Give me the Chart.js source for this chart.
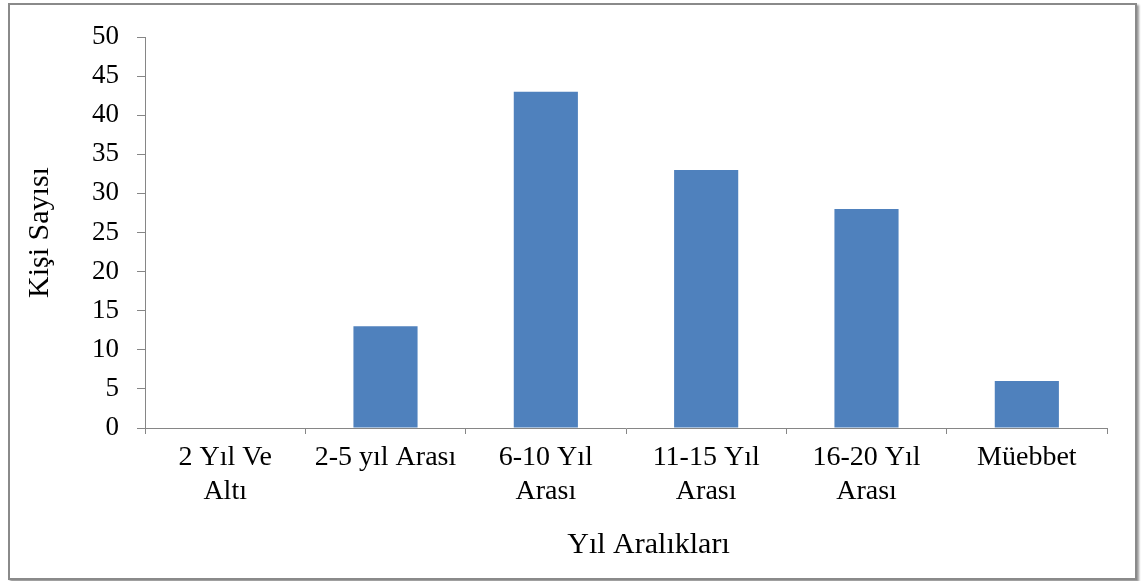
<!DOCTYPE html>
<html>
<head>
<meta charset="utf-8">
<script src="https://cdn.jsdelivr.net/npm/chart.js@4"></script>
<style>
body{margin:0;background:#fff;}
#frame{
position:absolute;left:8px;top:3px;width:1125px;height:573px;
border:2px solid #8a8a8a;
box-shadow:2px 2px 2px #9a9a9a;
background:#fff;
}
</style>
</head>
<body>
<div id="frame"><canvas id="sentenceChart"></canvas></div>
<script>

const categories = [["2 Yıl Ve","Altı"],"2-5 yıl Arası",["6-10 Yıl","Arası"],["11-15 Yıl","Arası"],["16-20 Yıl","Arası"],"Müebbet"]
const counts = [0,13,43,33,28,6]
const yTitle = "Kişi Sayısı"
const xTitle = "Yıl Aralıkları"

const serif = "'Liberation Serif','Times New Roman',serif"
const axisGray = "#868686"

const ctx = document.getElementById("sentenceChart")

new Chart(ctx, {

type: "bar",

data: {
labels: categories,
datasets: [
{label:yTitle,data:counts,backgroundColor:"#4F81BD",barPercentage:0.4,categoryPercentage:1}
]
},

options:{
responsive:true,
maintainAspectRatio:false,
animation:false,
layout:{
padding:{top:32,right:28,bottom:0,left:0}
},
plugins:{
legend:{display:false},
tooltip:{enabled:false}
},
scales:{
x:{
afterFit:function(scale){ scale.height = 150 },
grid:{
offset:true,
drawOnChartArea:false,
drawTicks:true,
tickLength:6,
color:axisGray
},
border:{color:axisGray,width:1},
ticks:{
color:"#000",
maxRotation:0,
autoSkip:false,
padding:7,
font:{family:serif,size:28,lineHeight:1.2}
},
title:{
display:true,
text:"      " + xTitle,
color:"#000",
padding:{top:0,bottom:15},
font:{family:serif,size:30,lineHeight:1.2}
}
},
y:{
min:0,
max:50,
afterFit:function(scale){
// fixed axis width, top/bottom spacing comes from layout padding only
scale.width = 135
scale.paddingTop = 0
scale.paddingBottom = 0
},
grid:{
drawOnChartArea:false,
drawTicks:true,
tickLength:8,
color:axisGray
},
border:{color:axisGray,width:1},
ticks:{
stepSize:5,
color:"#000",
padding:18,
font:{family:serif,size:27}
},
title:{
display:true,
text:yTitle,
color:"#000",
padding:{top:12,bottom:0},
font:{family:serif,size:30,lineHeight:1.2}
}
}
}
}

})

</script>
</body>
</html>
